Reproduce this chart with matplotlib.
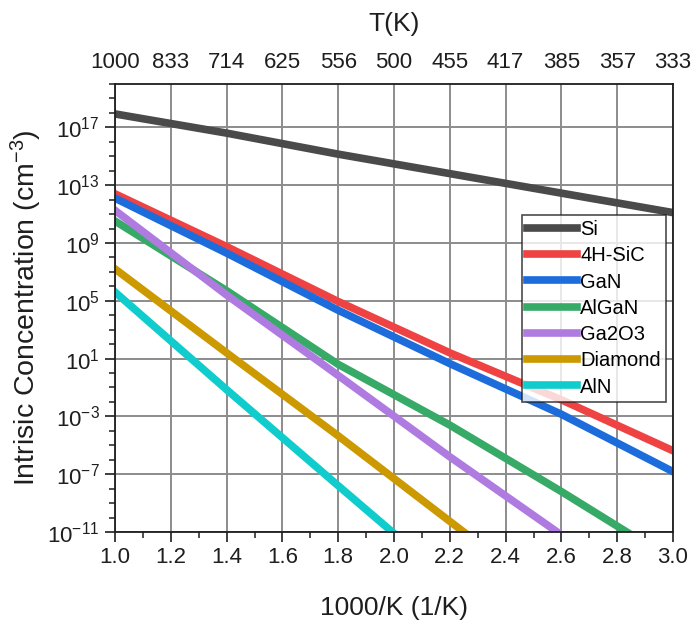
import matplotlib
matplotlib.use("Agg")
import matplotlib.pyplot as plt
import matplotlib.ticker as mticker

plt.rcParams['font.family'] = ['Liberation Sans', 'DejaVu Sans']
plt.rcParams['mathtext.fontset'] = 'custom'
plt.rcParams['mathtext.rm'] = 'Liberation Sans'
plt.rcParams['mathtext.it'] = 'Liberation Sans:italic'
plt.rcParams['mathtext.default'] = 'regular'

# Intrinsic carrier concentration (cm^-3) versus 1000/T for each material
si_x = [1.0, 1.4, 1.8, 2.2, 2.6, 3.0]
si_n = [8.5e17, 4.0e16, 1.4e15, 6.3e13, 2.8e12, 1.26e11]

sic_x = [1.0, 1.4, 1.8, 2.2, 2.6, 3.0]
sic_n = [2.5e12, 5.6e8, 8.9e4, 25.0, 1.4e-2, 4.2e-6]

gan_x = [1.0, 1.4, 1.8, 2.2, 2.6, 3.0]
gan_n = [1.26e12, 2.0e8, 2.2e4, 4.5, 1.4e-3, 1.5e-7]

algan_x = [1.0, 1.4, 1.8, 2.2, 2.6, 2.834]
algan_n = [3.3e10, 5.0e5, 4.0, 2.5e-4, 6.3e-9, 1e-11]

ga2o3_x = [1.0, 1.4, 1.8, 2.2, 2.585]
ga2o3_n = [1.8e11, 2.5e5, 0.68, 1.6e-6, 1e-11]

diamond_x = [1.0, 1.4, 1.8, 2.25]
diamond_n = [1.6e7, 25.0, 4.5e-5, 1e-11]

aln_x = [1.0, 1.4, 1.8, 1.994]
aln_n = [4.0e5, 7.1e-2, 1.6e-8, 1e-11]

series = [
    ("Si", si_x, si_n, "#4a4a4a"),
    ("4H-SiC", sic_x, sic_n, "#ef4343"),
    ("GaN", gan_x, gan_n, "#1c6cdc"),
    ("AlGaN", algan_x, algan_n, "#38aa68"),
    ("Ga2O3", ga2o3_x, ga2o3_n, "#b07be0"),
    ("Diamond", diamond_x, diamond_n, "#cc9900"),
    ("AlN", aln_x, aln_n, "#10cccc"),
]

# Temperature labels for the top axis, placed at the 1000/T grid positions
top_pos = [1.0, 1.2, 1.4, 1.6, 1.8, 2.0, 2.2, 2.4, 2.6, 2.8, 3.0]
top_labels = ["1000", "833", "714", "625", "556", "500", "455", "417", "385", "357", "333"]

ink = '#1e1e1e'

fig = plt.figure(figsize=(6.91, 6.29), dpi=100)
ax = fig.add_axes([115 / 691, 1 - 532 / 629, (673 - 115) / 691, (532 - 84) / 629])

for name, xs, ns, col in series:
    ax.plot(xs, ns, color=col, lw=5.5, label=name, solid_capstyle='projecting')

ax.set_yscale('log')
ax.set_xlim(1.0, 3.0)
ax.set_ylim(1e-11, 1e20)

ax.xaxis.set_major_locator(mticker.MultipleLocator(0.2))
ax.xaxis.set_minor_locator(mticker.MultipleLocator(0.1))
ax.xaxis.set_major_formatter(mticker.FormatStrFormatter('%.1f'))
ax.yaxis.set_major_locator(mticker.FixedLocator([10.0 ** e for e in range(-11, 20, 4)]))
ax.yaxis.set_minor_locator(mticker.FixedLocator([10.0 ** e for e in range(-11, 21)]))
ax.yaxis.set_minor_formatter(mticker.NullFormatter())
ax.yaxis.set_major_formatter(mticker.LogFormatterMathtext())

ax.grid(True, which='major', color='#8c8c8c', lw=1.4)
ax.set_axisbelow(True)
for s in ax.spines.values():
    s.set_linewidth(1.3)
    s.set_color(ink)

ax.tick_params(which='major', direction='out', length=7, width=1.2, labelsize=16, colors=ink, pad=4)
ax.tick_params(which='minor', direction='out', length=4, width=1.1, colors=ink)

ax.set_xlabel("1000/K (1/K)", fontsize=19, labelpad=20, color=ink)
ax.set_ylabel("Intrisic Concentration (cm$^{-3}$)", fontsize=20.5, labelpad=2, color=ink)

top = ax.twiny()
top.set_xlim(ax.get_xlim())
top.set_xticks(top_pos)
top.set_xticklabels(top_labels)
top.tick_params(axis='x', length=0, labelsize=16, labelcolor=ink, pad=8)
top.set_xlabel("T(K)", fontsize=19, labelpad=15, color=ink)
for s in top.spines.values():
    s.set_visible(False)

leg = ax.legend(loc='upper left', bbox_to_anchor=((522 - 115) / 558, 1 - (215 - 84) / 448),
                fontsize=14.5, frameon=True, fancybox=False, edgecolor=ink,
                handlelength=2.5, handletextpad=0.15, labelspacing=0.36,
                borderpad=0.25, borderaxespad=0.0)
leg.get_frame().set_linewidth(1.2)
for h in leg.get_lines():
    h.set_linewidth(5.5)

fig.savefig("out.png", dpi=100)
